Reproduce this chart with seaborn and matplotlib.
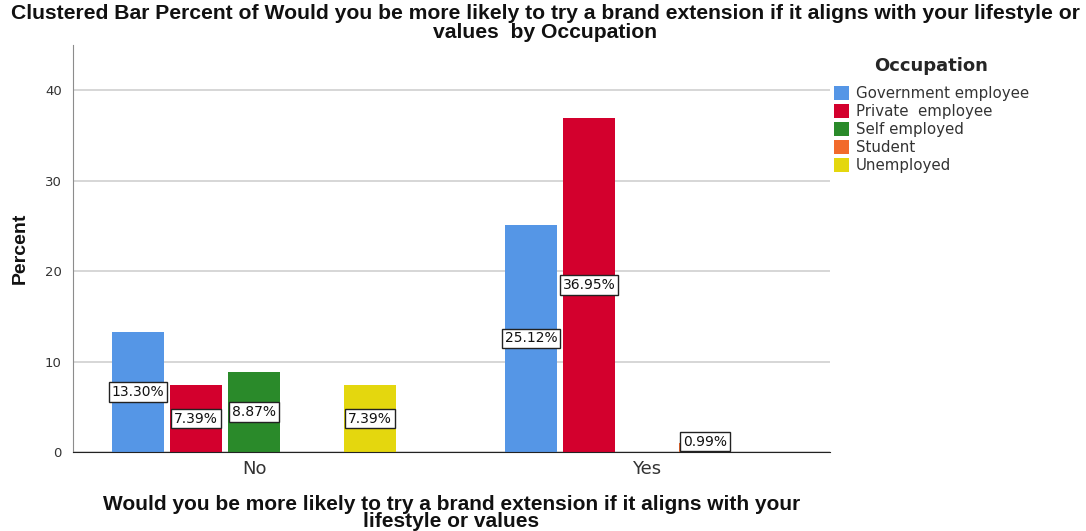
import matplotlib
matplotlib.use("Agg")
import matplotlib.pyplot as plt
from matplotlib.patches import Patch
import seaborn as sns
import pandas as pd

# Survey answers and occupation shares (percent of all respondents)
responses = ["No", "No", "No", "No", "Yes", "Yes", "Yes"]
occupations = ["Government employee", "Private  employee", "Self employed", "Unemployed",
               "Government employee", "Private  employee", "Student"]
percents = [13.30, 7.39, 8.87, 7.39, 25.12, 36.95, 0.99]

response_order = ["No", "Yes"]
occupation_order = ["Government employee", "Private  employee", "Self employed", "Student", "Unemployed"]
occupation_colors = ["#5596e6", "#d3002d", "#2a8a2a", "#f26a2b", "#e4d70e"]
y_ticks = [0, 10, 20, 30, 40]

df = pd.DataFrame({"Response": responses, "Occupation": occupations, "Percent": percents})

sns.set_style("white")
plt.rcParams["font.family"] = ["Liberation Sans", "DejaVu Sans"]

fig = plt.figure(figsize=(10.86, 5.31), dpi=100)
ax = fig.add_axes([73 / 1086, 1 - 452 / 531, (830 - 73) / 1086, (452 - 45) / 531])

sns.barplot(data=df, x="Response", y="Percent", hue="Occupation",
            order=response_order, hue_order=occupation_order,
            palette=occupation_colors, saturation=1, width=0.738, gap=0.1,
            errorbar=None, legend=False, linewidth=0, ax=ax)

ax.set_xlim(-0.4606, 1.4656)
ax.set_ylim(0, 45)
ax.set_yticks(y_ticks)
ax.yaxis.grid(True, color="#cfcfcf", linewidth=1.2)
ax.set_axisbelow(True)
for side in ("top", "right"):
    ax.spines[side].set_visible(False)
ax.spines["left"].set_color("#8c8c8c")
ax.spines["bottom"].set_color("#222222")
ax.tick_params(axis="y", length=0, pad=8, labelsize=9.5, labelcolor="#333333")
ax.tick_params(axis="x", length=0, pad=6, labelsize=13, labelcolor="#333333")
for lab in ax.get_yticklabels() + ax.get_xticklabels():
    lab.set_family("DejaVu Sans")

# Value boxes at mid-height of each bar
for container in ax.containers:
    for bar in container:
        h = bar.get_height()
        ax.text(bar.get_x() + bar.get_width() / 2, max(h / 2, 1.15), f"{h:.2f}%",
                ha="center", va="center", fontsize=10, family="DejaVu Sans", color="#111111",
                bbox=dict(boxstyle="square,pad=0.2", facecolor="white",
                          edgecolor="#222222", linewidth=1.0))

ax.set_ylabel("Percent", fontsize=14, fontweight="bold", labelpad=12, color="#111111")
ax.set_xlabel("Would you be more likely to try a brand extension if it aligns with your\nlifestyle or values",
              fontsize=15, fontweight="bold", linespacing=0.85, va="top", color="#111111")
ax.xaxis.set_label_coords(0.5, (452 - 495) / 407)

fig.suptitle("Clustered Bar Percent of Would you be more likely to try a brand extension if it aligns with your lifestyle or\n"
             "values  by Occupation", x=0.502, y=0.992, fontsize=15.2, fontweight="bold",
             linespacing=0.98, color="#111111")

handles = [Patch(facecolor=c, edgecolor="none") for c in occupation_colors]
leg = ax.legend(handles, occupation_order, title="Occupation",
                loc="upper left", bbox_to_anchor=(834 / 1086, 1 - 57 / 531),
                bbox_transform=fig.transFigure, frameon=False,
                handlelength=1.0, handleheight=1.0, handletextpad=0.45,
                labelspacing=0.2, borderaxespad=0, borderpad=0,
                prop={"family": "DejaVu Sans", "size": 10.8},
                title_fontproperties={"weight": "bold", "size": 13, "family": "DejaVu Sans"})
for t in leg.get_texts():
    t.set_color("#333333")
leg._legend_box.sep = 8

fig.savefig("out.png", dpi=100)
